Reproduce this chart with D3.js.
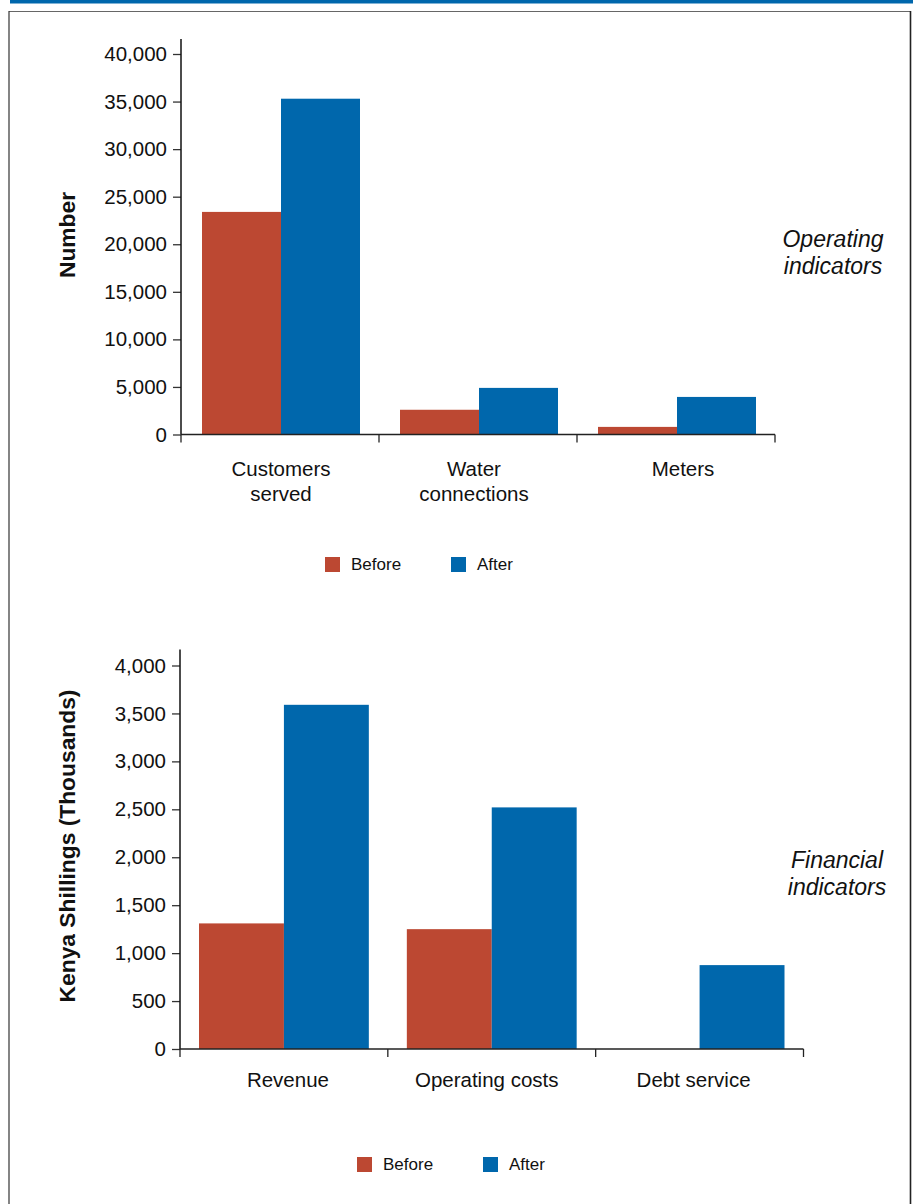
<!DOCTYPE html>
<html>
<head>
<meta charset="utf-8">
<script src="https://cdn.jsdelivr.net/npm/d3@7/dist/d3.min.js"></script>
<style>
  html, body { margin: 0; padding: 0; background: #fff; }
  svg { display: block; font-family: "Liberation Sans", Arial, Helvetica, sans-serif; }
</style>
</head>
<body>
<svg id="chart" width="913" height="1204"></svg>
<script>
// Operating indicators (counts)
const opCategories = ["Customers served", "Water connections", "Meters"];
const opLabelLines = [["Customers", "served"], ["Water", "connections"], ["Meters"]];
const opBefore = [23400, 2600, 800];
const opAfter = [35300, 4900, 3950];
const opTicks = [0, 5000, 10000, 15000, 20000, 25000, 30000, 35000, 40000];

// Financial indicators (Kenya Shillings, thousands)
const finCategories = ["Revenue", "Operating costs", "Debt service"];
const finLabelLines = [["Revenue"], ["Operating costs"], ["Debt service"]];
const finBefore = [1310, 1250, 0];
const finAfter = [3590, 2520, 875];
const finTicks = [0, 500, 1000, 1500, 2000, 2500, 3000, 3500, 4000];

const seriesNames = ["Before", "After"];
const seriesColors = ["#BC4832", "#0067AC"];

const svg = d3.select("#chart");
const fmt = d3.format(",");

// Page furniture: blue rule along the top and the panel frame
svg.append("rect").attr("x", 10).attr("y", 0).attr("width", 903).attr("height", 3.5).attr("fill", "#0067AC");
svg.append("line").attr("x1", 9).attr("x2", 910).attr("y1", 11.5).attr("y2", 11.5).attr("stroke", "#666").attr("stroke-width", 1.2);
svg.append("line").attr("x1", 9).attr("x2", 9).attr("y1", 11).attr("y2", 1204).attr("stroke", "#333").attr("stroke-width", 1.2);
svg.append("line").attr("x1", 910.5).attr("x2", 910.5).attr("y1", 11).attr("y2", 1204).attr("stroke", "#222").attr("stroke-width", 1.6);

function drawPanel(cfg) {
  const g = svg.append("g");
  const x = d3.scaleBand().domain(cfg.categories).range(cfg.xRange).padding(0);
  const xs = d3.scaleBand().domain(seriesNames).range([cfg.groupPad, x.bandwidth() - cfg.groupPad + cfg.groupShift]).padding(0);
  const y = d3.scaleLinear().domain([0, cfg.ticks[cfg.ticks.length - 1]]).range(cfg.yRange);
  const color = d3.scaleOrdinal().domain(seriesNames).range(seriesColors);

  const rows = cfg.categories.map((c, i) => ({ cat: c, values: [cfg.before[i], cfg.after[i]] }));

  // bars
  const groups = g.selectAll("g.grp").data(rows).join("g")
    .attr("class", "grp")
    .attr("transform", d => `translate(${x(d.cat)},0)`);
  groups.selectAll("rect").data(d => d.values.map((v, k) => ({ key: seriesNames[k], value: v })))
    .join("rect")
    .attr("x", d => xs(d.key))
    .attr("width", d => xs.bandwidth())
    .attr("y", d => y(d.value))
    .attr("height", d => y(0) - y(d.value))
    .attr("fill", d => color(d.key));

  // y axis
  const yAxis = d3.axisLeft(y).tickValues(cfg.ticks).tickFormat(fmt).tickSize(8).tickPadding(6);
  const ya = g.append("g").attr("transform", `translate(${cfg.xRange[0]},0)`).call(yAxis);
  ya.select(".domain").remove();
  ya.selectAll(".tick line").attr("stroke", "#333").attr("stroke-width", 1.3);
  ya.selectAll(".tick text").attr("fill", "#111").style("font-size", "20.5px");
  ya.append("line")
    .attr("x1", 0).attr("x2", 0)
    .attr("y1", y(0)).attr("y2", y(cfg.ticks[cfg.ticks.length - 1]) - cfg.axisOverhang)
    .attr("stroke", "#111").attr("stroke-width", 1.5);

  // x axis: baseline with ticks at the category boundaries
  const bounds = cfg.categories.map(c => x(c)).concat([x.range()[1]]);
  g.append("line")
    .attr("x1", cfg.xRange[0]).attr("x2", cfg.xRange[1])
    .attr("y1", y(0)).attr("y2", y(0))
    .attr("stroke", "#222").attr("stroke-width", 1.6);
  g.selectAll("line.xtick").data(bounds).join("line")
    .attr("class", "xtick")
    .attr("x1", d => d).attr("x2", d => d)
    .attr("y1", y(0)).attr("y2", y(0) + 8)
    .attr("stroke", "#222").attr("stroke-width", 1.3);

  // category labels
  g.selectAll("text.cat").data(rows).join("text")
    .attr("class", "cat")
    .attr("x", (d, i) => x(d.cat) + x.bandwidth() / 2 + cfg.labelShift[i])
    .attr("y", y(0) + cfg.labelOffset)
    .attr("text-anchor", "middle")
    .attr("fill", "#111")
    .style("font-size", "20.5px")
    .selectAll("tspan").data((d, i) => cfg.labelLines[i]).join("tspan")
    .attr("x", function () { return d3.select(this.parentNode).attr("x"); })
    .attr("dy", (d, j) => j === 0 ? 0 : 25)
    .text(d => d);

  // y axis title
  g.append("text")
    .attr("transform", `translate(${cfg.titleX},${cfg.titleY}) rotate(-90)`)
    .attr("text-anchor", "middle")
    .attr("dy", "0.35em")
    .attr("fill", "#111")
    .style("font-size", "22.8px")
    .style("font-weight", "bold")
    .text(cfg.title);

  // italic side note
  g.append("text")
    .attr("x", cfg.noteX)
    .attr("y", cfg.noteY)
    .attr("text-anchor", "middle")
    .attr("fill", "#111")
    .style("font-size", "23px")
    .style("font-style", "italic")
    .selectAll("tspan").data(cfg.note).join("tspan")
    .attr("x", cfg.noteX)
    .attr("dy", (d, j) => j === 0 ? 0 : 27)
    .text(d => d);

  // legend
  const lg = g.append("g");
  const items = lg.selectAll("g").data(seriesNames).join("g")
    .attr("transform", (d, i) => `translate(${cfg.legendX[i]},${cfg.legendY})`);
  items.append("rect").attr("x", 0).attr("y", -7).attr("width", 15).attr("height", 15)
    .attr("fill", d => color(d));
  items.append("text").attr("x", 26).attr("y", 0).attr("dy", "0.35em")
    .attr("fill", "#111").style("font-size", "17px").text(d => d);
}

drawPanel({
  categories: opCategories, labelLines: opLabelLines,
  before: opBefore, after: opAfter, ticks: opTicks,
  xRange: [181, 775], yRange: [434.5, 54], groupPad: 21, groupShift: 2, axisOverhang: 15,
  labelOffset: 41, labelShift: [1, -4, 7],
  title: "Number", titleX: 67, titleY: 235,
  note: ["Operating", "indicators"], noteX: 833, noteY: 247,
  legendX: [325, 451], legendY: 564
});

drawPanel({
  categories: finCategories, labelLines: finLabelLines,
  before: finBefore, after: finAfter, ticks: finTicks,
  xRange: [180, 803.5], yRange: [1049, 665.5], groupPad: 19, groupShift: 0, axisOverhang: 16,
  labelOffset: 38, labelShift: [4, -5, -6],
  title: "Kenya Shillings (Thousands)", titleX: 67, titleY: 846,
  note: ["Financial", "indicators"], noteX: 837, noteY: 868,
  legendX: [357, 483], legendY: 1164
});
</script>
</body>
</html>
